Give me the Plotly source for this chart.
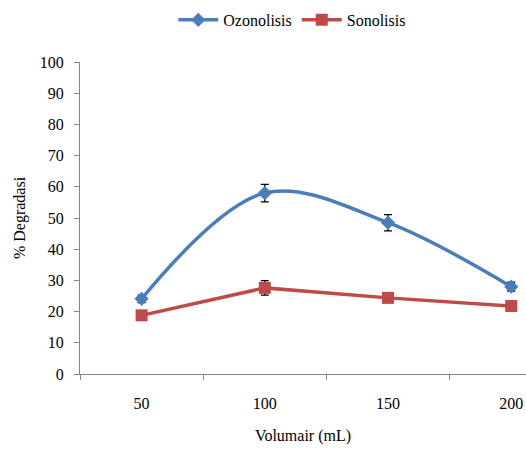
import plotly.graph_objects as go

categories = ["50", "100", "150", "200"]
ozon = [24.1, 58.0, 48.5, 28.0]
ozon_err = [1.2, 2.8, 2.6, 1.4]
sono = [18.8, 27.6, 24.4, 21.8]
sono_err = [0.8, 2.3, 0.8, 0.6]
yticks = [0, 10, 20, 30, 40, 50, 60, 70, 80, 90, 100]

font = "Liberation Serif"
blue = "#4A7EBB"
red = "#BE4B48"

fig = go.Figure()
fig.add_trace(go.Scatter(
    x=categories, y=ozon, name="Ozonolisis", mode="lines+markers",
    line=dict(color=blue, width=3.5, shape="spline", smoothing=1.0),
    marker=dict(symbol="diamond", size=11, color=blue),
    error_y=dict(type="data", array=ozon_err, color="black", thickness=1.3, width=4),
))
fig.add_trace(go.Scatter(
    x=categories, y=sono, name="Sonolisis", mode="lines+markers",
    line=dict(color=red, width=3.5),
    marker=dict(symbol="square", size=12, color=red),
    error_y=dict(type="data", array=sono_err, color="black", thickness=1.3, width=4),
))

fig.update_layout(
    width=526, height=450,
    margin=dict(l=80, r=0, t=62, b=76),
    paper_bgcolor="white", plot_bgcolor="white",
    font=dict(family=font, size=16, color="black"),
    showlegend=True,
    legend=dict(orientation="h", x=0.476, xanchor="center", y=1.135, yanchor="middle",
                font=dict(family=font, size=16, color="black"), itemwidth=40,
                bgcolor="rgba(0,0,0,0)"),
    xaxis=dict(
        type="category", range=[-0.5, 3.12], tickson="boundaries",
        ticks="outside", ticklen=5, tickcolor="#868686",
        showline=True, linecolor="#868686", linewidth=1, showgrid=False,
        zeroline=False, ticklabelstandoff=15,
        title=dict(text="Volumair (mL)", font=dict(family=font, size=16), standoff=18),
    ),
    yaxis=dict(
        range=[0, 100], tickvals=yticks, ticks="outside", ticklen=5,
        tickcolor="#868686", showline=True, linecolor="#868686", linewidth=1,
        showgrid=False, zeroline=False, ticklabelstandoff=7,
        title=dict(text="% Degradasi", font=dict(family=font, size=16), standoff=10),
    ),
)

fig.write_html("out.html")
